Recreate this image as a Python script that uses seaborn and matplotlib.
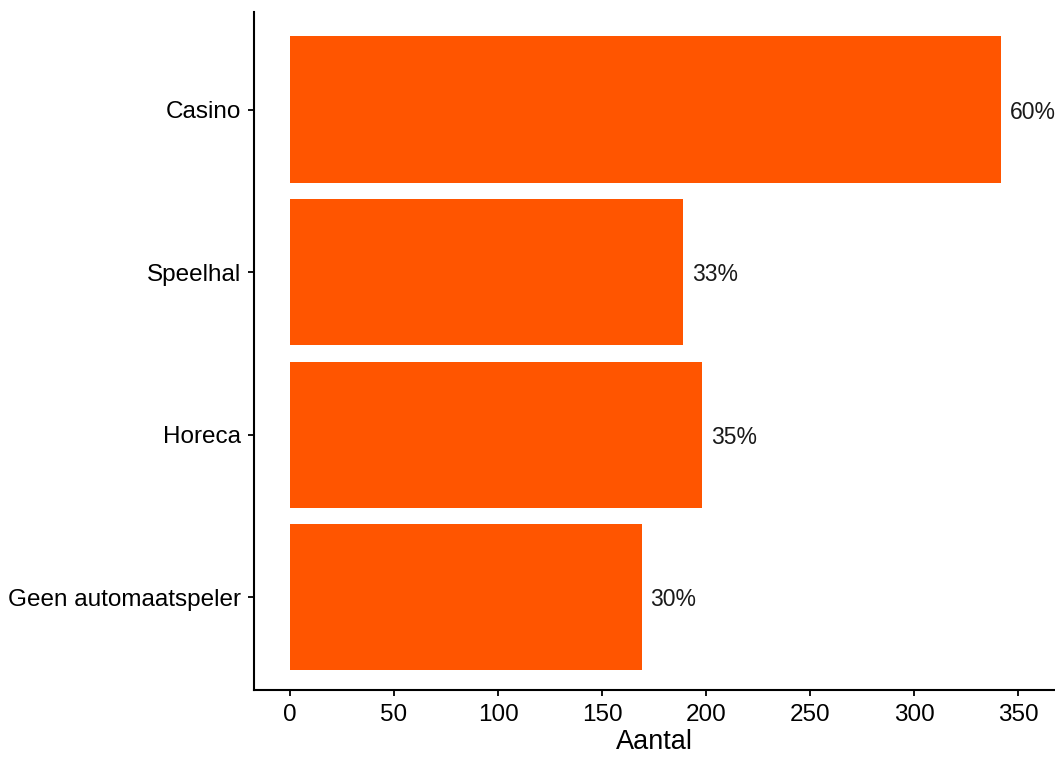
import pandas as pd
import matplotlib.pyplot as plt
import seaborn as sns

categories = ['Casino', 'Speelhal', 'Horeca', 'Geen automaatspeler']
aantal = [342, 189, 198, 169]
percent_labels = ['60%', '33%', '35%', '30%']

df = pd.DataFrame({'categorie': categories, 'aantal': aantal, 'label': percent_labels})

sns.set_style('ticks')
plt.rcParams['font.family'] = ['Liberation Sans', 'DejaVu Sans']

fig = plt.figure(figsize=(10.55, 7.58), dpi=100)
ax = fig.add_axes([0.2408, 0.0897, 0.7592, 0.8945])

sns.barplot(data=df, x='aantal', y='categorie', order=categories, orient='h',
            color='#FF5500', saturation=1, width=0.9, linewidth=0, ax=ax)

for i, row in df.iterrows():
    ax.annotate(row['label'], xy=(row['aantal'], i), xytext=(6.5, 0),
                textcoords='offset points', ha='left', va='center_baseline',
                fontsize=16.5, color='#1a1a1a')

ax.set_xlim(-17.3, 367.8)
ax.set_ylim(3.57, -0.6)
ax.set_xticks([0, 50, 100, 150, 200, 250, 300, 350])
ax.set_xlabel('Aantal', fontsize=19.5, color='black', labelpad=2)
ax.set_ylabel('')
ax.tick_params(axis='both', labelsize=17.5, colors='black', length=4.3, width=1.3)
ax.tick_params(axis='x', pad=6)
ax.tick_params(axis='y', pad=5)
sns.despine(ax=ax)
for side in ['left', 'bottom']:
    ax.spines[side].set_linewidth(1.5)
    ax.spines[side].set_color('black')

fig.savefig('out.png', dpi=100)
